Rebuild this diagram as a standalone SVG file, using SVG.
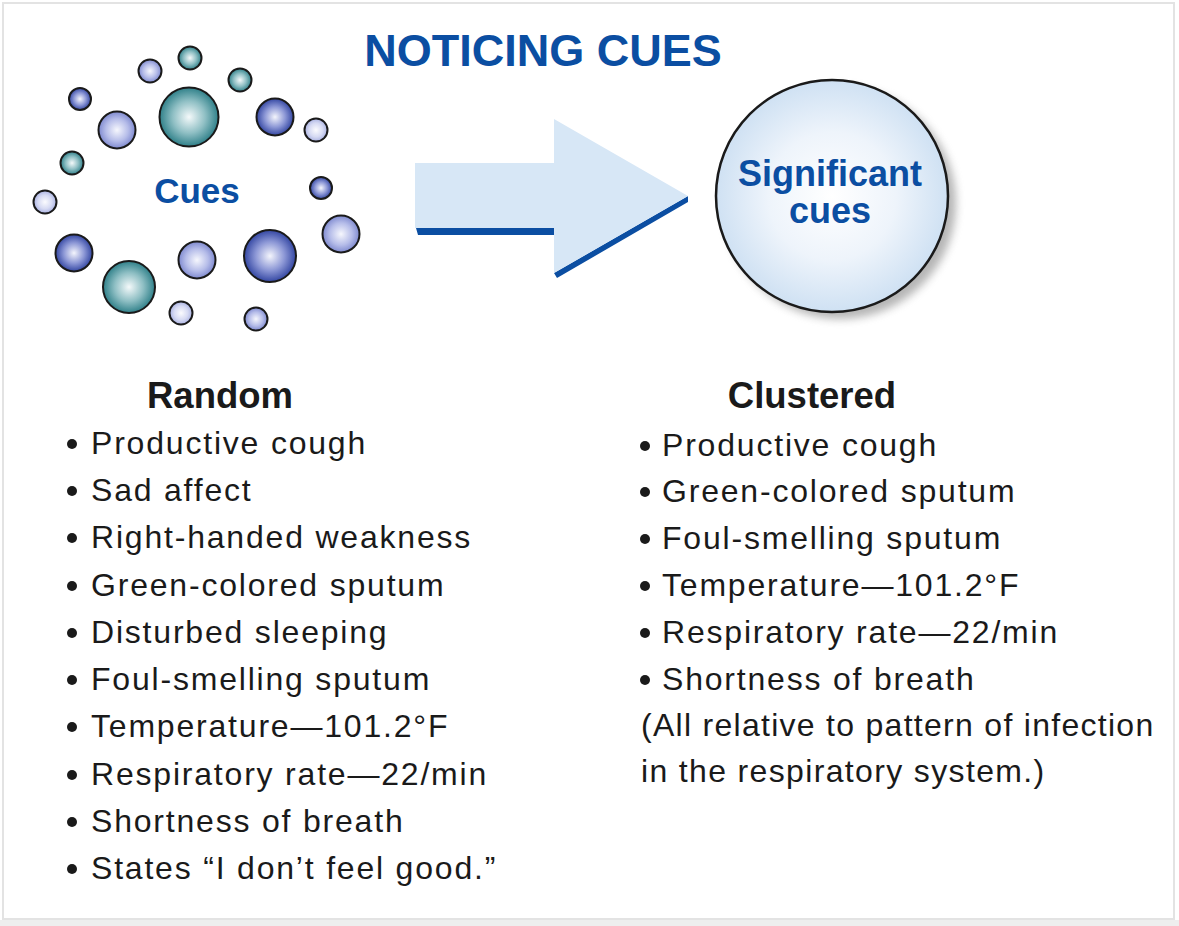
<svg xmlns="http://www.w3.org/2000/svg" width="1179" height="926" viewBox="0 0 1179 926">
<style>
.title{font-family:"Liberation Sans",Arial,sans-serif;font-weight:bold;fill:#0b4ea2;text-anchor:middle}
.blue{font-family:"Liberation Sans",Arial,sans-serif;font-weight:bold;fill:#0b4ea2;text-anchor:middle}
.head{font-family:"Liberation Sans",Arial,sans-serif;font-weight:bold;font-size:36.5px;fill:#1a1a1a;text-anchor:middle}
.item{font-family:"Liberation Sans",Arial,sans-serif;font-size:32px;letter-spacing:1.8px;fill:#1a1a1a}
.dot{fill:#1a1a1a}
.b{stroke:#1a1a1a;stroke-width:2}
</style>
<defs>
<radialGradient id="gTeal" cx="50%" cy="50%" r="50%"><stop offset="0" stop-color="#f4f9fa"/><stop offset="0.55" stop-color="#8fbfc4"/><stop offset="1" stop-color="#2f8089"/></radialGradient>
<radialGradient id="gDark" cx="50%" cy="50%" r="50%"><stop offset="0" stop-color="#f4f5fc"/><stop offset="0.55" stop-color="#8d98d6"/><stop offset="1" stop-color="#3346a2"/></radialGradient>
<radialGradient id="gLav" cx="50%" cy="50%" r="50%"><stop offset="0" stop-color="#f6f7fd"/><stop offset="0.6" stop-color="#b6bde9"/><stop offset="1" stop-color="#7e89cf"/></radialGradient>
<radialGradient id="gPale" cx="50%" cy="50%" r="50%"><stop offset="0" stop-color="#fbfbfe"/><stop offset="0.6" stop-color="#d6daf3"/><stop offset="1" stop-color="#aab2e2"/></radialGradient>
<radialGradient id="gBig" cx="50%" cy="50%" r="50%"><stop offset="0" stop-color="#ffffff"/><stop offset="0.55" stop-color="#eef4fb"/><stop offset="1" stop-color="#cfe1f3"/></radialGradient>
<filter id="shadow" x="-20%" y="-20%" width="140%" height="140%"><feGaussianBlur stdDeviation="4"/></filter>
</defs>
<rect x="0" y="0" width="1179" height="926" fill="#ffffff"/>
<rect x="0" y="920" width="1179" height="6" fill="#eeeeee"/>
<rect x="3" y="3" width="1171" height="916" fill="none" stroke="#e3e3e3" stroke-width="2"/>

<g id="title">
<text class="title" x="543" y="66" font-size="45">NOTICING CUES</text>
</g>

<g id="cues">
<circle class="b" cx="190" cy="58" r="11.5" fill="url(#gTeal)"/>
<circle class="b" cx="150" cy="71" r="11.5" fill="url(#gLav)"/>
<circle class="b" cx="240" cy="80" r="11.5" fill="url(#gTeal)"/>
<circle class="b" cx="80" cy="99" r="11" fill="url(#gDark)"/>
<circle class="b" cx="117" cy="130" r="18.5" fill="url(#gLav)"/>
<circle class="b" cx="189" cy="117" r="29.5" fill="url(#gTeal)"/>
<circle class="b" cx="275" cy="117" r="18.5" fill="url(#gDark)"/>
<circle class="b" cx="316" cy="130" r="11.5" fill="url(#gPale)"/>
<circle class="b" cx="72" cy="163" r="11.5" fill="url(#gTeal)"/>
<circle class="b" cx="45" cy="202" r="11.5" fill="url(#gPale)"/>
<circle class="b" cx="321" cy="188" r="11" fill="url(#gDark)"/>
<circle class="b" cx="341" cy="234" r="18.5" fill="url(#gLav)"/>
<circle class="b" cx="74" cy="253" r="18.5" fill="url(#gDark)"/>
<circle class="b" cx="129" cy="287" r="26" fill="url(#gTeal)"/>
<circle class="b" cx="197" cy="260" r="18.5" fill="url(#gLav)"/>
<circle class="b" cx="270" cy="256" r="26" fill="url(#gDark)"/>
<circle class="b" cx="181" cy="313" r="11.5" fill="url(#gPale)"/>
<circle class="b" cx="256" cy="319" r="11.5" fill="url(#gLav)"/>
<text class="blue" x="197" y="203" font-size="35">Cues</text>
</g>

<g id="connectors">
<polygon points="416,228 554,228 554,273 557,278 688,202 688,196 554,273 554,235 418,235" fill="#0b4ea2"/>
<polygon points="415,163 554,163 554,119 688,196 554,273 554,228 415,228" fill="#d7e7f6"/>
</g>

<g id="significant">
<circle cx="840" cy="203" r="116" fill="#7a7a7a" opacity="0.55" filter="url(#shadow)"/>
<circle cx="832" cy="196" r="116" fill="url(#gBig)" stroke="#1a1a1a" stroke-width="2.5"/>
<text class="blue" x="830" y="186" font-size="36">Significant</text>
<text class="blue" x="830" y="223" font-size="36">cues</text>
</g>

<g id="random">
<text class="head" x="220" y="408">Random</text>
<circle class="dot" cx="72" cy="444" r="5"/><text class="item" x="91" y="454">Productive cough</text>
<circle class="dot" cx="72" cy="491" r="5"/><text class="item" x="91" y="501">Sad affect</text>
<circle class="dot" cx="72" cy="538" r="5"/><text class="item" x="91" y="548">Right-handed weakness</text>
<circle class="dot" cx="72" cy="586" r="5"/><text class="item" x="91" y="596">Green-colored sputum</text>
<circle class="dot" cx="72" cy="633" r="5"/><text class="item" x="91" y="643">Disturbed sleeping</text>
<circle class="dot" cx="72" cy="680" r="5"/><text class="item" x="91" y="690">Foul-smelling sputum</text>
<circle class="dot" cx="72" cy="727" r="5"/><text class="item" x="91" y="737">Temperature—101.2°F</text>
<circle class="dot" cx="72" cy="775" r="5"/><text class="item" x="91" y="785">Respiratory rate—22/min</text>
<circle class="dot" cx="72" cy="822" r="5"/><text class="item" x="91" y="832">Shortness of breath</text>
<circle class="dot" cx="72" cy="869" r="5"/><text class="item" x="91" y="879">States “I don’t feel good.”</text>
</g>

<g id="clustered">
<text class="head" x="812" y="408">Clustered</text>
<circle class="dot" cx="645" cy="446" r="5"/><text class="item" x="662" y="456">Productive cough</text>
<circle class="dot" cx="645" cy="492" r="5"/><text class="item" x="662" y="502">Green-colored sputum</text>
<circle class="dot" cx="645" cy="539" r="5"/><text class="item" x="662" y="549">Foul-smelling sputum</text>
<circle class="dot" cx="645" cy="586" r="5"/><text class="item" x="662" y="596">Temperature—101.2°F</text>
<circle class="dot" cx="645" cy="633" r="5"/><text class="item" x="662" y="643">Respiratory rate—22/min</text>
<circle class="dot" cx="645" cy="680" r="5"/><text class="item" x="662" y="690">Shortness of breath</text>
<text class="item" x="641" y="736" textLength="514">(All relative to pattern of infection</text>
<text class="item" x="641" y="782" textLength="405">in the respiratory system.)</text>
</g>
</svg>
